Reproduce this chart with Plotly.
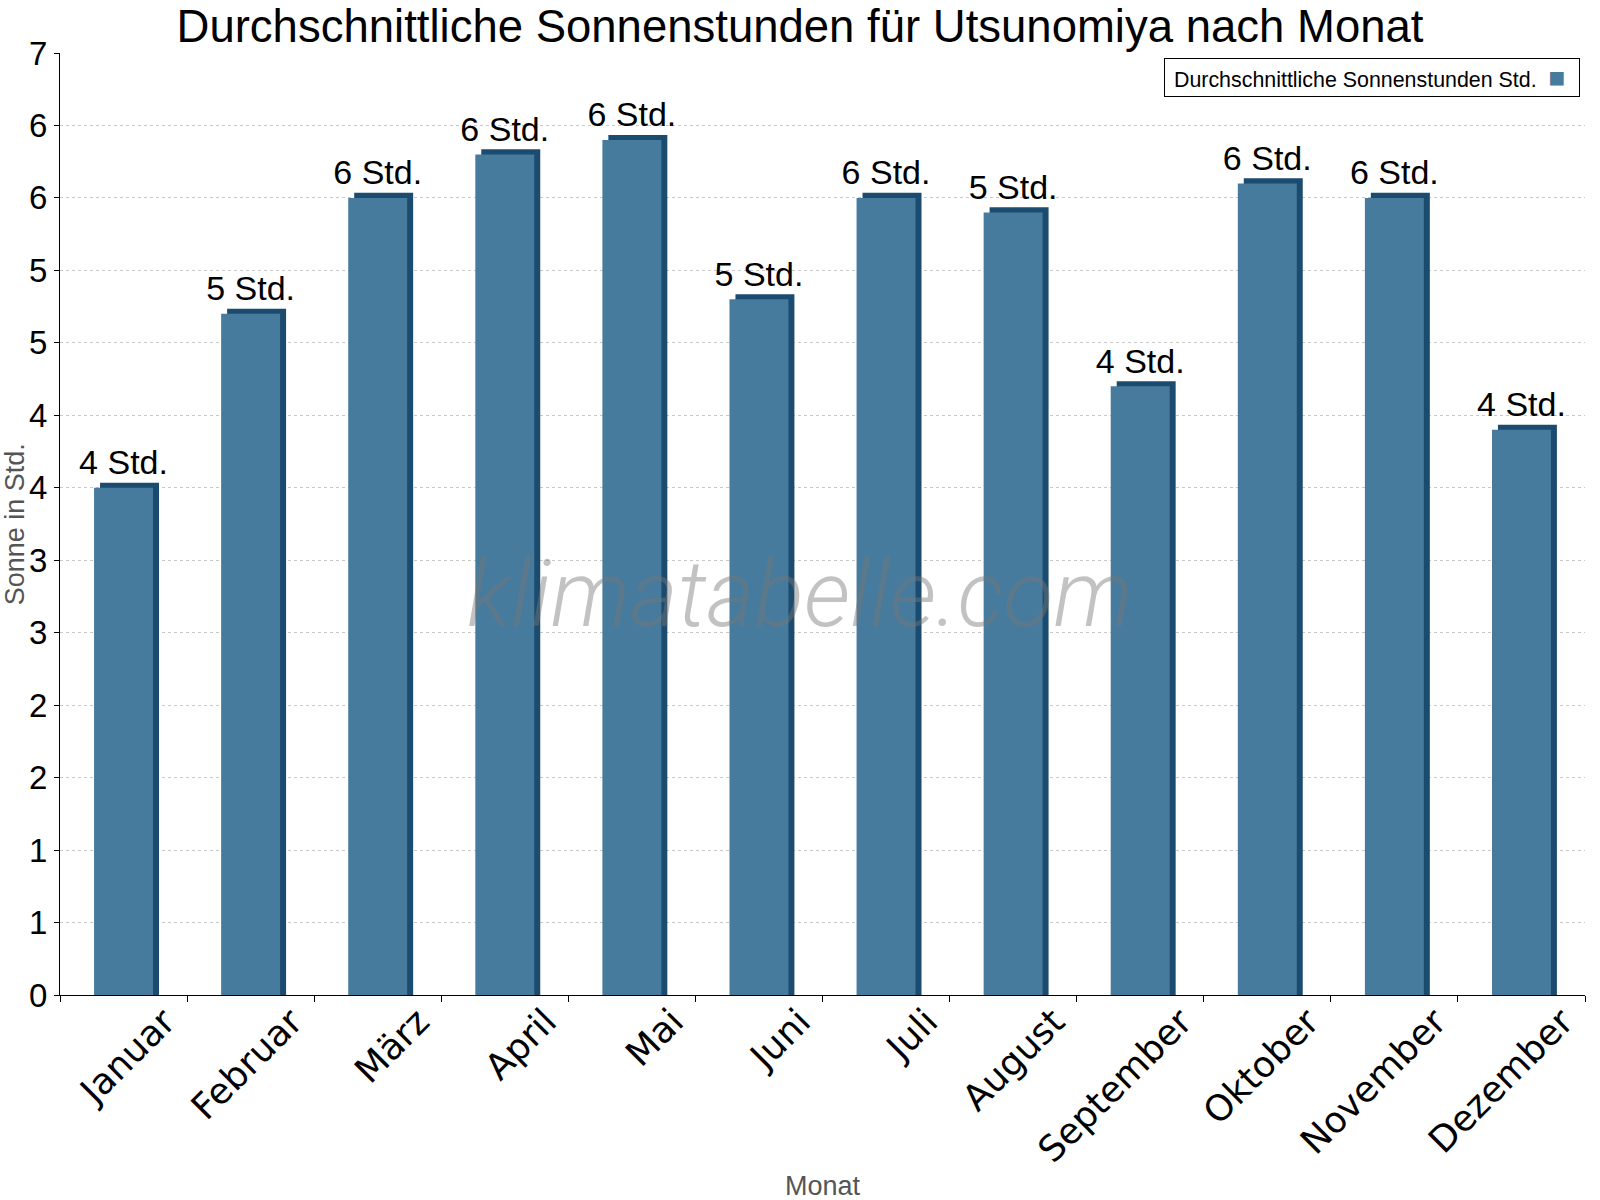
import math
import plotly.graph_objects as go

months = ["Januar", "Februar", "März", "April", "Mai", "Juni", "Juli",
          "August", "September", "Oktober", "November", "Dezember"]
sun_hours = [3.5, 4.7, 5.5, 5.8, 5.9, 4.8, 5.5, 5.4, 4.2, 5.6, 5.5, 3.9]
y_tickvals = [0, 0.5, 1, 1.5, 2, 2.5, 3, 3.5, 4, 4.5, 5, 5.5, 6, 6.5]
y_ticktext = ["0", "1", "1", "2", "2", "3", "3", "4", "4", "5", "5", "6", "6", "7"]

title = "Durchschnittliche Sonnenstunden für Utsunomiya nach Monat"
series_name = "Durchschnittliche Sonnenstunden Std."
x_title = "Monat"
y_title = "Sonne in Std."

FRONT = "#467b9d"
SIDE = "#1b4b6e"
FONT = "Liberation Sans, Arial, sans-serif"

W = 0.464      # bar width (category units)
DW = 0.047     # depth x
DY = 0.035     # depth y

labels = [f"{int(math.floor(v + 0.5))} Std." for v in sun_hours]

fig = go.Figure()
# depth / shadow part of the pseudo-3D bars
fig.add_trace(go.Bar(
    x=months, y=[v + DY for v in sun_hours],
    width=W, offset=-W / 2 + DW,
    marker=dict(color=SIDE, line=dict(width=0)),
    showlegend=False, hoverinfo="skip",
))
# front face
fig.add_trace(go.Bar(
    x=months, y=sun_hours, name=series_name,
    width=W, offset=-W / 2,
    marker=dict(color=FRONT, line=dict(width=0)),
    showlegend=False,
))
# value labels
fig.add_trace(go.Scatter(
    x=months, y=[v + DY for v in sun_hours],
    mode="text", text=labels, textposition="top center",
    textfont=dict(family=FONT, size=34, color="#000000"),
    showlegend=False, hoverinfo="skip", cliponaxis=False,
))

fig.update_layout(
    width=1600, height=1200,
    barmode="overlay",
    paper_bgcolor="white", plot_bgcolor="white",
    margin=dict(l=60, r=15, t=53, b=205, autoexpand=False),
    font=dict(family=FONT, color="#000000"),
    title=dict(text=title, x=0.5, xanchor="center", y=1 - 26 / 1200, yanchor="middle",
               font=dict(family=FONT, size=45.5, color="#000000")),
    showlegend=False,
)

fig.update_xaxes(
    type="category", automargin=False, range=[-0.5, 11.5],
    showline=True, linecolor="#000000", linewidth=1,
    ticks="outside", ticklen=6, tickcolor="#000000", tickson="boundaries",
    showgrid=False,
    tickangle=-45,
    tickfont=dict(family="DejaVu Sans, sans-serif", size=36, color="#000000"),
    ticklabelshift=41, ticklabelstandoff=-10,
)
fig.update_yaxes(
    range=[0, 6.5], automargin=False,
    tickvals=y_tickvals, ticktext=y_ticktext,
    showline=True, linecolor="#000000", linewidth=1,
    ticks="outside", ticklen=5, tickcolor="#000000",
    showgrid=True, gridcolor="#c8c8c8", griddash="dot", gridwidth=1,
    zeroline=False,
    tickfont=dict(family=FONT, size=33, color="#000000"),
)

# axis titles
fig.add_annotation(
    xref="paper", yref="paper", x=0.5, y=-0.203, xanchor="center", yanchor="middle",
    text=x_title, showarrow=False,
    font=dict(family=FONT, size=27, color="#555555"),
)
fig.add_annotation(
    xref="paper", yref="paper", x=-0.0293, y=0.5, xanchor="center", yanchor="middle",
    text=y_title, showarrow=False, textangle=-90,
    font=dict(family=FONT, size=27, color="#555555"),
)

# legend box (symbol to the right of the text, as in the original)
fig.add_annotation(
    xref="paper", yref="paper", x=1, y=1, xanchor="right", yanchor="top",
    xshift=-5, yshift=-5,
    text=(f"&nbsp;{series_name}&nbsp;&nbsp;"
          f"<span style='color:{FRONT};font-size:28px'>■</span>&nbsp;\u2009"),
    showarrow=False, align="left",
    font=dict(family=FONT, size=21.4, color="#000000"),
    bordercolor="#000000", borderwidth=1, borderpad=3, bgcolor="white",
)

# watermark
fig.add_annotation(
    xref="paper", yref="paper", x=0.485, y=0.425, xanchor="center", yanchor="middle",
    text="klimatabelle.com", showarrow=False,
    font=dict(family="Roboto, sans-serif", size=92, color="rgba(120,120,120,0.45)",
              style="italic", weight=300),
)

fig.write_html("out.html", config={"displayModeBar": False},
               post_script="document.body.style.margin='0';")
